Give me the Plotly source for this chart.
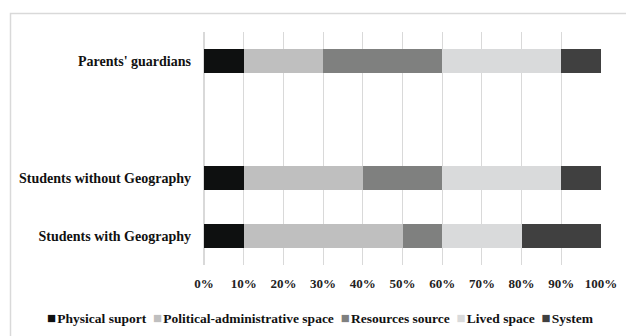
import plotly.graph_objects as go

categories = ["Students with Geography", "Students without Geography", " ", "Parents' guardians"]
series_names = ["Physical suport", "Political-administrative space", "Resources source", "Lived space", "System"]
physical = [0.10, 0.10, None, 0.10]
political = [0.40, 0.30, None, 0.20]
resources = [0.10, 0.20, None, 0.30]
lived = [0.20, 0.30, None, 0.30]
system = [0.20, 0.10, None, 0.10]
colors = ["#0e1010", "#bfbfbf", "#7f807f", "#d9dadb", "#404040"]
x_ticks = [0, 0.1, 0.2, 0.3, 0.4, 0.5, 0.6, 0.7, 0.8, 0.9, 1.0]

FONT = "Liberation Serif"
fig = go.Figure()
for name, vals, c in zip(series_names, [physical, political, resources, lived, system], colors):
    fig.add_trace(go.Bar(y=categories, x=vals, name=name, orientation="h",
                         marker=dict(color=c, line=dict(width=0))))

legend_text = "  ".join(
    f"<span style='color:{c};font-size:15px'>■</span><span style='font-size:5px'> </span>{n}"
    for n, c in zip(series_names, colors)
)

fig.update_layout(
    barmode="stack",
    bargap=0.59,
    width=626, height=336,
    margin=dict(l=204, r=25, t=32, b=71, autoexpand=False),
    paper_bgcolor="white", plot_bgcolor="white",
    font=dict(family=FONT, size=12, color="#222"),
    showlegend=False,
    xaxis=dict(range=[0, 1], tickvals=x_ticks, tickformat=".0%", showgrid=True,
               gridcolor="#d9d9d9", gridwidth=1, zeroline=True, zerolinecolor="#d9d9d9",
               showline=False, ticks="", ticklabelstandoff=9,
               tickfont=dict(family=FONT, size=13, color="#222", weight="bold")),
    yaxis=dict(type="category", categoryorder="array", categoryarray=categories,
               range=[-0.5, 3.5], showgrid=False, showline=False, ticks="",
               ticklabelstandoff=12,
               tickfont=dict(family=FONT, size=14, color="#111", weight="bold")),
    annotations=[dict(xref="paper", yref="paper", x=(320 - 204) / 397, y=(265 - 318) / 233,
                      xanchor="center", yanchor="middle", showarrow=False,
                      text=legend_text,
                      font=dict(family=FONT, size=13.5, color="#111", weight="bold"))],
    shapes=[dict(type="rect", xref="paper", yref="paper",
                 x0=(10.5 - 204) / 397, x1=1.2, y0=-0.5, y1=(265 - 13.5) / 233,
                 line=dict(color="#d9d9d9", width=1.5), fillcolor="rgba(0,0,0,0)", layer="below")],
)
fig.write_html("out.html")
